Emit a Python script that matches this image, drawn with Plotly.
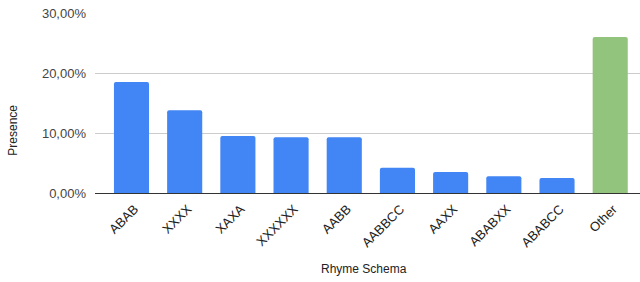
import plotly.graph_objects as go

categories = ["ABAB", "XXXX", "XAXA", "XXXXXX", "AABB", "AABBCC", "AAXX", "ABABXX", "ABABCC", "Other"]
presence = [0.185, 0.138, 0.095, 0.093, 0.093, 0.042, 0.035, 0.028, 0.025, 0.260]
colors = ["#4285F4"] * 9 + ["#93C47D"]
y_ticks = [0, 0.1, 0.2, 0.3]

fig = go.Figure(go.Bar(
    x=categories, y=presence, marker=dict(color=colors, cornerradius=2, line=dict(width=0)),
    width=0.66,
))

fig.update_layout(
    width=640, height=282,
    margin=dict(l=95, r=0, t=13, b=88.5),
    paper_bgcolor="white", plot_bgcolor="white",
    separators=",.",
    font=dict(family="Liberation Sans, Arial, sans-serif", size=12, color="#222222"),
    showlegend=False,
)
fig.add_annotation(text="Rhyme Schema", xref="x domain", yref="y domain",
                   x=(364 - 95) / 545, y=-(270 - 13) / 180.5 + 1,
                   showarrow=False, font=dict(size=12, color="#222222"),
                   xanchor="center", yanchor="middle")
fig.add_annotation(text="Presence", xref="x domain", yref="y domain",
                   x=-(95 - 13) / 545, y=1 - (131 - 13) / 180.5, textangle=-90,
                   showarrow=False, font=dict(size=12, color="#222222"),
                   xanchor="center", yanchor="middle")
fig.update_xaxes(
    range=[-0.686, 9.56], tickangle=-45, showgrid=False, showline=False, ticks="",
    automargin=False, tickfont=dict(size=13, color="#222222"),
    ticklabelstandoff=5, ticklabelshift=3,
)
fig.update_yaxes(
    range=[0, 0.3], tickvals=y_ticks, tickformat=".2%",
    showgrid=True, gridcolor="#cccccc", gridwidth=1,
    zeroline=True, zerolinecolor="#333333", zerolinewidth=1,
    showline=False, ticks="", ticklabelstandoff=8, automargin=False,
    tickfont=dict(size=13, color="#444444"),
)

fig.write_html("out.html", config={"displayModeBar": False},
               post_script="document.body.style.margin='0';document.body.style.overflow='hidden';")
